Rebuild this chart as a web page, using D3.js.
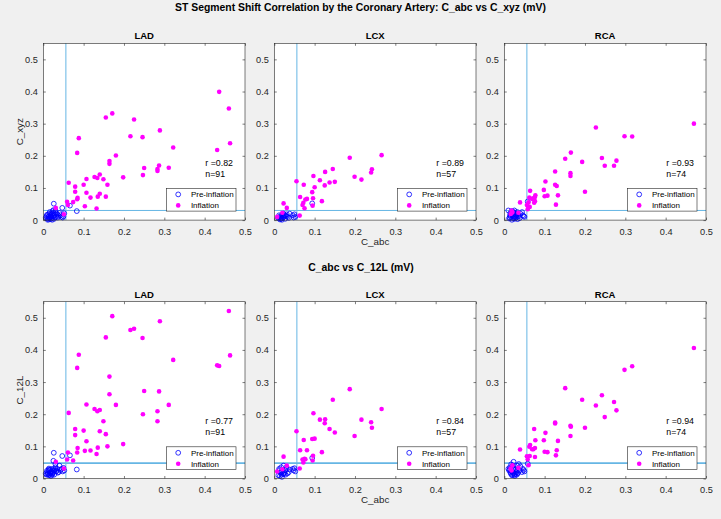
<!DOCTYPE html>
<html><head><meta charset="utf-8">
<script src="https://cdn.jsdelivr.net/npm/d3@7"></script>
<style>
body{margin:0;background:#f0f0f0;}
text{font-family:"Liberation Sans",Arial,Helvetica,sans-serif;}
</style></head>
<body><svg id="c" width="721" height="519"></svg>
<script>
// ---------- DATA ----------
const arteries = ["LAD","LCX","RCA"];
const tickValues = [0,0.1,0.2,0.3,0.4,0.5];
const tickLabels = ["0","0.1","0.2","0.3","0.4","0.5"];
const rValuesXyz = ["0.82","0.89","0.93"];
const rValues12L = ["0.77","0.84","0.94"];
const nValues = [91,57,74];
const thresholdAbc = 0.056;
const thresholdXyz = 0.030;
const threshold12L = 0.048;
const legendLabels = ["Pre-inflation","Inflation"];
const mainTitle = "ST Segment Shift Correlation by the Coronary Artery: C_abc vs C_xyz (mV)";
const subTitle = "C_abc vs C_12L (mV)";

// LAD inflation: C_abc, C_xyz, C_12L
const ladInfAbc = [0.436,0.460,0.463,0.431,0.322,0.311,0.289,0.287,0.283,0.283,0.250,0.247,0.246,0.225,0.216,0.198,0.180,0.171,0.155,0.164,0.164,0.159,0.155,0.149,0.140,0.140,0.135,0.134,0.127,0.132,0.117,0.107,0.107,0.103,0.100,0.088,0.084,0.085,0.084,0.079,0.079,0.074,0.063,0.061,0.059,0.051,0.031];
const ladInfXyz = [0.399,0.347,0.239,0.218,0.226,0.163,0.279,0.170,0.159,0.153,0.162,0.140,0.258,0.313,0.261,0.133,0.201,0.332,0.319,0.184,0.175,0.110,0.073,0.127,0.142,0.082,0.073,0.131,0.134,0.036,0.070,0.128,0.085,0.043,0.110,0.255,0.209,0.069,0.065,0.104,0.088,0.056,0.116,0.047,0.057,0.018,0.038];
const ladInf12L = [0.350,0.521,0.383,0.352,0.369,0.229,0.489,0.271,0.209,0.178,0.272,0.200,0.437,0.466,0.462,0.107,0.229,0.505,0.439,0.317,0.262,0.100,0.138,0.178,0.213,0.147,0.096,0.209,0.216,0.076,0.087,0.230,0.116,0.086,0.149,0.385,0.344,0.095,0.081,0.154,0.135,0.056,0.204,0.081,0.059,0.031,0.052];
// LAD pre-inflation
const ladPreAbc = [0.026,0.047,0.066,0.083,0.025,0.052,0.050,0.040,0.035,0.030,0.028,0.022,0.020,0.018,0.015,0.012,0.010,0.008,0.014,0.017,0.021,0.024,0.027,0.032,0.036,0.043,0.048,0.019,0.013,0.006,0.009,0.016,0.023,0.029,0.033,0.038,0.011,0.020,0.025,0.045,0.014,0.018,0.022,0.030];
const ladPreXyz = [0.051,0.038,0.045,0.028,0.031,0.021,0.012,0.022,0.018,0.025,0.015,0.020,0.010,0.014,0.008,0.018,0.005,0.012,0.002,0.020,0.006,0.012,0.004,0.010,0.008,0.015,0.008,0.003,0.011,0.007,0.016,0.025,0.028,0.009,0.020,0.013,0.001,0.017,0.022,0.010,0.006,0.009,0.001,0.030];
const ladPre12L = [0.080,0.070,0.072,0.028,0.055,0.025,0.033,0.040,0.030,0.035,0.025,0.030,0.022,0.018,0.025,0.015,0.020,0.012,0.010,0.028,0.015,0.020,0.012,0.022,0.018,0.026,0.022,0.008,0.028,0.015,0.024,0.012,0.016,0.030,0.024,0.020,0.013,0.021,0.026,0.030,0.031,0.017,0.011,0.045];

// LCX inflation
const lcxInfAbc = [0.266,0.187,0.145,0.126,0.199,0.216,0.242,0.240,0.113,0.137,0.150,0.125,0.097,0.055,0.073,0.100,0.094,0.064,0.081,0.077,0.072,0.070,0.075,0.096,0.095,0.118,0.023,0.031,0.063,0.020,0.007];
const lcxInfXyz = [0.202,0.194,0.159,0.150,0.135,0.126,0.158,0.148,0.124,0.117,0.119,0.108,0.137,0.121,0.110,0.102,0.087,0.072,0.066,0.064,0.054,0.047,0.037,0.068,0.045,0.059,0.052,0.038,0.014,0.023,0.010];
const lcxInf12L = [0.216,0.278,0.245,0.184,0.132,0.183,0.158,0.175,0.183,0.154,0.143,0.172,0.203,0.147,0.120,0.124,0.123,0.088,0.088,0.060,0.050,0.059,0.061,0.071,0.056,0.082,0.068,0.040,0.031,0.029,0.022];
// LCX pre-inflation
const lcxPreAbc = [0.094,0.050,0.052,0.048,0.038,0.030,0.025,0.022,0.018,0.015,0.012,0.010,0.020,0.027,0.033,0.014,0.017,0.023,0.028,0.036,0.013,0.019,0.024,0.031,0.046,0.016];
const lcxPreXyz = [0.052,0.018,0.010,0.008,0.020,0.012,0.015,0.008,0.005,0.012,0.015,0.006,0.018,0.004,0.010,0.002,0.010,0.020,0.014,0.007,0.008,0.001,0.011,0.018,0.015,0.004];
const lcxPre12L = [0.064,0.032,0.022,0.025,0.028,0.035,0.018,0.015,0.012,0.020,0.030,0.010,0.022,0.025,0.016,0.008,0.035,0.040,0.012,0.020,0.026,0.005,0.014,0.030,0.030,0.018];

// RCA inflation
const rcaInfAbc = [0.470,0.298,0.317,0.227,0.165,0.151,0.242,0.278,0.193,0.249,0.272,0.164,0.164,0.126,0.126,0.130,0.133,0.128,0.102,0.098,0.100,0.107,0.200,0.077,0.076,0.074,0.072,0.069,0.064,0.062,0.063,0.056,0.060,0.039,0.058,0.076,0.016,0.020,0.035,0.018];
const rcaInfXyz = [0.300,0.261,0.260,0.288,0.210,0.191,0.193,0.185,0.181,0.169,0.169,0.146,0.137,0.151,0.110,0.106,0.077,0.048,0.120,0.094,0.074,0.076,0.088,0.077,0.059,0.054,0.068,0.066,0.091,0.070,0.041,0.047,0.055,0.055,0.034,0.072,0.019,0.024,0.023,0.030];
const rcaInf12L = [0.406,0.338,0.349,0.227,0.161,0.281,0.259,0.212,0.245,0.191,0.238,0.164,0.132,0.174,0.171,0.088,0.117,0.072,0.142,0.119,0.083,0.082,0.158,0.119,0.067,0.154,0.091,0.091,0.104,0.099,0.070,0.069,0.041,0.090,0.060,0.095,0.031,0.041,0.033,0.025];
// RCA pre-inflation
const rcaPreAbc = [0.058,0.050,0.046,0.040,0.036,0.032,0.030,0.028,0.025,0.023,0.022,0.020,0.018,0.016,0.014,0.012,0.010,0.024,0.026,0.034,0.038,0.021,0.019,0.027,0.031,0.015,0.013,0.044,0.029,0.033,0.017,0.022,0.025,0.048];
const rcaPreXyz = [0.058,0.010,0.015,0.020,0.012,0.025,0.008,0.018,0.030,0.012,0.005,0.020,0.028,0.010,0.015,0.005,0.030,0.022,0.004,0.016,0.006,0.014,0.001,0.010,0.020,0.022,0.008,0.025,0.013,0.003,0.018,0.026,0.008,0.012];
const rcaPre12L = [0.046,0.022,0.030,0.038,0.045,0.040,0.020,0.028,0.032,0.052,0.018,0.012,0.022,0.015,0.035,0.025,0.030,0.016,0.008,0.018,0.025,0.040,0.010,0.014,0.012,0.020,0.028,0.020,0.024,0.016,0.044,0.030,0.011,0.026];

const infAbc = [ladInfAbc,lcxInfAbc,rcaInfAbc];
const infXyz = [ladInfXyz,lcxInfXyz,rcaInfXyz];
const inf12L = [ladInf12L,lcxInf12L,rcaInf12L];
const preAbc = [ladPreAbc,lcxPreAbc,rcaPreAbc];
const preXyz = [ladPreXyz,lcxPreXyz,rcaPreXyz];
const pre12L = [ladPre12L,lcxPre12L,rcaPre12L];

// ---------- LAYOUT ----------
const svg = d3.select("#c");
svg.append("rect").attr("width",721).attr("height",519).attr("fill","#f0f0f0");
const colLeft = [43.3,274.3,504.3];
const rowTop = [43.3,301.7];
const pw = 201.7, ph = 176.8;
const ink = "#262626";
const blue = "#0000ff", mag = "#ff00ff", refc = "#66b6e4";

const rows = [
  {yname:"C_xyz", infY:infXyz, preY:preXyz, thr:thresholdXyz, r:rValuesXyz, thrW:1},
  {yname:"C_12L", infY:inf12L, preY:pre12L, thr:threshold12L, r:rValues12L, thrW:1.8}
];

const x = d3.scaleLinear().domain([0,0.5]).range([0,pw]);
const y = d3.scaleLinear().domain([0,0.55]).range([ph,0]);
const fmt = (d)=>tickLabels[tickValues.indexOf(d)];

rows.forEach((row,ri)=>{
  arteries.forEach((art,ci)=>{
    const g = svg.append("g").attr("transform",`translate(${colLeft[ci]},${rowTop[ri]})`);
    g.append("rect").attr("width",pw).attr("height",ph).attr("fill","#fff");
    // reference lines
    g.append("line").attr("x1",x(thresholdAbc)).attr("x2",x(thresholdAbc)).attr("y1",0).attr("y2",ph)
      .attr("stroke",refc).attr("stroke-width",1);
    g.append("line").attr("x1",0).attr("x2",pw).attr("y1",y(row.thr)).attr("y2",y(row.thr))
      .attr("stroke",refc).attr("stroke-width",row.thrW);
    // pre-inflation
    const pre = preAbc[ci].map((v,i)=>[v,row.preY[ci][i]]);
    g.append("g").selectAll("circle").data(pre).join("circle")
      .attr("cx",d=>x(d[0])).attr("cy",d=>y(d[1])).attr("r",2.4)
      .attr("fill","none").attr("stroke",blue).attr("stroke-width",0.8);
    // inflation
    const inf = infAbc[ci].map((v,i)=>[v,row.infY[ci][i]]);
    g.append("g").selectAll("circle").data(inf).join("circle")
      .attr("cx",d=>x(d[0])).attr("cy",d=>y(d[1])).attr("r",2.3)
      .attr("fill",mag);
    // axes
    const ax = (a)=>a.tickValues(tickValues).tickSizeInner(-2.5).tickSizeOuter(0);
    const gl = g.append("g").call(ax(d3.axisLeft(y)).tickFormat(fmt).tickPadding(5.5));
    const gb = g.append("g").attr("transform",`translate(0,${ph})`).call(ax(d3.axisBottom(x)).tickFormat(fmt).tickPadding(8));
    const gr = g.append("g").attr("transform",`translate(${pw},0)`).call(ax(d3.axisRight(y)).tickFormat(""));
    const gt = g.append("g").call(ax(d3.axisTop(x)).tickFormat(""));
    [gl,gb,gr,gt].forEach(a=>{
      a.select(".domain").remove();
      a.selectAll("line").attr("stroke",ink).attr("stroke-width",0.6);
      a.selectAll("text").attr("fill",ink).style("font-size","9.2px").style("font-family",'"Liberation Sans",Arial,sans-serif');
    });
    g.append("rect").attr("width",pw).attr("height",ph).attr("fill","none").attr("stroke",ink).attr("stroke-width",0.6);
    // panel title
    g.append("text").attr("x",pw/2).attr("y",-4.2).attr("text-anchor","middle")
      .attr("font-weight","bold").attr("font-size","9.5px").attr("fill","#000").text(art);
    // r / n
    g.append("text").attr("x",162).attr("y",122.5).attr("font-size","8.8px").attr("fill","#000").text("r =" + row.r[ci]);
    g.append("text").attr("x",162).attr("y",133.3).attr("font-size","8.8px").attr("fill","#000").text("n=" + nValues[ci]);
    // legend
    const lw = 69.5, lh = 22.7;
    const lg = g.append("g").attr("transform",`translate(${pw-9-lw},${ph-31.7})`);
    lg.append("rect").attr("width",lw).attr("height",lh).attr("fill","#fff").attr("stroke",ink).attr("stroke-width",0.6);
    lg.append("circle").attr("cx",11.7).attr("cy",6).attr("r",2.4).attr("fill","none").attr("stroke",blue).attr("stroke-width",0.8);
    lg.append("circle").attr("cx",11.7).attr("cy",17).attr("r",2.3).attr("fill",mag);
    lg.append("text").attr("x",24.4).attr("y",6).attr("dy","0.35em").attr("font-size","8px").attr("fill","#000").text(legendLabels[0]);
    lg.append("text").attr("x",24.4).attr("y",17).attr("dy","0.35em").attr("font-size","8px").attr("fill","#000").text(legendLabels[1]);
    // axis labels
    if (ci===0) {
      g.append("text").attr("transform",`translate(${-20.3},${ph/2}) rotate(-90)`).attr("text-anchor","middle")
        .attr("font-size","9.8px").attr("fill",ink).text(row.yname);
    }
    if (ci===1) {
      g.append("text").attr("x",pw/2).attr("y",ph+25).attr("text-anchor","middle")
        .attr("font-size","9.8px").attr("fill",ink).text("C_abc");
    }
  });
});

svg.append("text").attr("x",360.5).attr("y",10.8).attr("text-anchor","middle").attr("font-weight","bold")
  .attr("font-size","10.4px").attr("fill","#000").text(mainTitle);
svg.append("text").attr("x",361).attr("y",270.5).attr("text-anchor","middle").attr("font-weight","bold")
  .attr("font-size","10.4px").attr("fill","#000").text(subTitle);
</script></body></html>
